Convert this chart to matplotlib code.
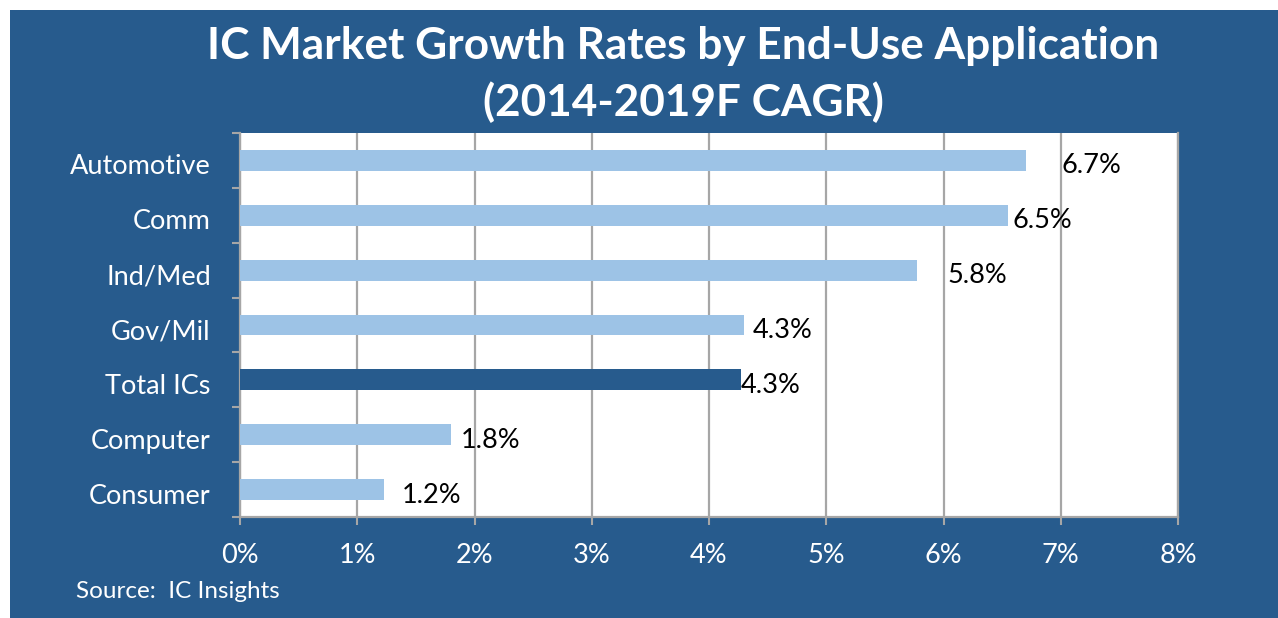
import matplotlib.pyplot as plt
import matplotlib.transforms as mtransforms
from matplotlib.patches import Rectangle
import numpy as np

# data (top to bottom)
categories = ['Automotive', 'Comm', 'Ind/Med', 'Gov/Mil', 'Total ICs', 'Computer', 'Consumer']
cagr = [6.70, 6.55, 5.77, 4.30, 4.27, 1.80, 1.23]
value_labels = ['6.7%', '6.5%', '5.8%', '4.3%', '4.3%', '1.8%', '1.2%']
x_ticks = [0, 1, 2, 3, 4, 5, 6, 7, 8]
x_tick_labels = ['0%', '1%', '2%', '3%', '4%', '5%', '6%', '7%', '8%']

# label gaps (in % units) as placed in the original chart
label_gap = [0.31, 0.04, 0.26, 0.07, 0.0, 0.08, 0.15]

BG = '#275B8D'
LIGHT = '#9DC3E6'
DARK = '#275B8D'
GRID = '#A6A6A6'

plt.rcParams['font.family'] = ['Lato', 'DejaVu Sans']

fig = plt.figure(figsize=(12.78, 6.18), dpi=100)
fig.patch.set_facecolor('white')

# blue panel behind everything
bg_ax = fig.add_axes([0, 0, 1, 1], zorder=0)
bg_ax.set_axis_off()
bg_ax.add_patch(Rectangle((10 / 1278, 0), 1, 1 - 10 / 618, transform=bg_ax.transAxes,
                          facecolor=BG, edgecolor='none'))

ax = fig.add_axes([240 / 1278, 1 - 517 / 618, 938 / 1278, 384 / 618], zorder=1)
ax.set_facecolor('white')

y_pos = np.arange(len(categories))
colors = [DARK if c == 'Total ICs' else LIGHT for c in categories]
ax.barh(y_pos, cagr, height=0.38, color=colors, zorder=3)

for y, v, lab, g in zip(y_pos, cagr, value_labels, label_gap):
    ax.text(v + g, y + 0.1, lab, va='center', ha='left', fontsize=19.5, color='black', zorder=4)

ax.set_xlim(0, 8)
ax.set_ylim(len(categories) - 0.5, -0.5)
ax.set_xticks(x_ticks)
ax.set_xticklabels(x_tick_labels)
ax.set_yticks(y_pos)
ax.set_yticklabels(categories)
ax.set_yticks(np.arange(-0.5, len(categories), 1.0), minor=True)

ax.tick_params(axis='y', which='major', length=0, pad=21, labelsize=19.5, labelcolor='white')
ax.tick_params(axis='y', which='minor', length=6, width=1.5, color=GRID, direction='out')
ax.tick_params(axis='x', which='major', length=6, width=1.5, color=GRID, direction='out',
               pad=13, labelsize=19.5, labelcolor='white')

# nudge category labels down a little, like the original
shift = mtransforms.ScaledTranslation(0, -4 / 100, fig.dpi_scale_trans)
for lbl in ax.get_yticklabels():
    lbl.set_transform(lbl.get_transform() + shift)

ax.xaxis.grid(True, color=GRID, linewidth=1.6, zorder=1)
ax.set_axisbelow(True)
for side in ['left', 'bottom', 'right']:
    ax.spines[side].set_color(GRID)
    ax.spines[side].set_linewidth(1.6)
ax.spines['top'].set_visible(False)

fig.text(683 / 1278, 1 - 26 / 618, 'IC Market Growth Rates by End-Use Application\n(2014-2019F CAGR)',
         ha='center', va='top', fontsize=31.8, fontweight='bold', color='white', linespacing=1.45)
fig.text(76 / 1278, 1 - 592 / 618, 'Source:  IC Insights', ha='left', va='center',
         fontsize=17.5, color='white')

fig.savefig('out.png', dpi=100, facecolor=fig.get_facecolor())
